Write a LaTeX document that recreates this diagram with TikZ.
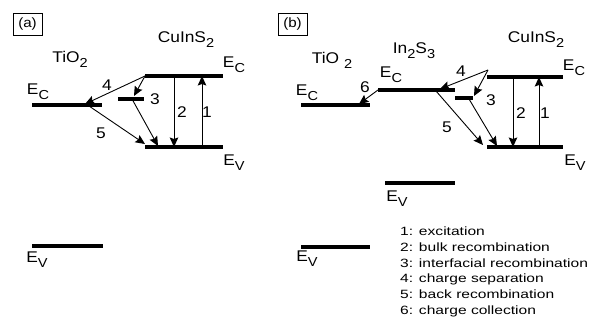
\documentclass[tikz,border=0pt]{standalone}
\usepackage{fontspec}
\setmainfont{Liberation Sans}[FakeStretch=1.12]
\newfontfamily\legfont{Liberation Sans}[FakeStretch=1.3]
\usetikzlibrary{arrows.meta}
\newcommand\lsub[1]{\raisebox{-0.32em}{\fontsize{13}{13}\selectfont #1}}
\tikzset{
  lvl/.style={line width=3.6pt},
  trans/.style={line width=0.9pt,-{Stealth[length=9.5pt,width=8.5pt,inset=1.5pt]}},
  lab/.style={inner sep=0pt,font=\fontsize{15.5}{17}\selectfont},
  tag/.style={draw,line width=0.8pt,minimum width=29pt,minimum height=22pt,inner sep=0pt,font=\fontsize{13.5}{15}\selectfont},
  legend/.style={inner sep=0pt,align=left,anchor=north west,font=\legfont\fontsize{12}{15.7}\selectfont}
}
\begin{document}
\begin{tikzpicture}[x=1pt,y=-1pt]
\useasboundingbox[fill=white] (0,0) rectangle (590,321);
% ---------- panel (a) ----------
\node[tag] (taga) at (27.5,24) {(a)};
\node[lab] (tioa) at (70,59) {TiO\lsub{2}};
\node[lab] (cuisa) at (186,40) {CuInS\lsub{2}};
\coordinate (aTcL) at (32,105); \coordinate (aTcR) at (102,105);
\coordinate (aTvL) at (32,246); \coordinate (aTvR) at (103,246);
\coordinate (aCcL) at (145,76); \coordinate (aCcR) at (223,76);
\coordinate (aCvL) at (145,147); \coordinate (aCvR) at (223,147);
\coordinate (a3L) at (118,99); \coordinate (a3R) at (144,99);
\draw[lvl] (aTcL) -- (aTcR);
\draw[lvl] (aTvL) -- (aTvR);
\draw[lvl] (aCcL) -- (aCcR);
\draw[lvl] (aCvL) -- (aCvR);
\draw[lvl] (a3L) -- (a3R);
\node[lab] (aEcT) at (38,92) {E\lsub{C}};
\node[lab] (aEvT) at (37,260) {E\lsub{V}};
\node[lab] (aEcC) at (234,65) {E\lsub{C}};
\node[lab] (aEvC) at (234,163) {E\lsub{V}};
\coordinate (a4t) at (85,104);
\coordinate (a3t) at (134,96);
\coordinate (a3s) at (132,99);
\coordinate (a3e) at (158,146);
\coordinate (a5s) at (89,106);
\coordinate (a5e) at (145,144);
\coordinate (a2s) at (174,76); \coordinate (a2e) at (174,147);
\coordinate (a1s) at (202,147); \coordinate (a1e) at (202,76);
\draw[trans] (aCcL) -- (a4t);
\draw[trans] (aCcL) -- (a3t);
\draw[trans] (a3s) -- (a3e);
\draw[trans] (a5s) -- (a5e);
\draw[trans] (a2s) -- (a2e);
\draw[trans] (a1s) -- (a1e);
\node[lab] (an4) at (107,85) {4};
\node[lab] (an3) at (155,99) {3};
\node[lab] (an2) at (182,112) {2};
\node[lab] (an1) at (207,112) {1};
\node[lab] (an5) at (101,133) {5};
% ---------- panel (b) ----------
\node[tag] (tagb) at (292.5,24) {(b)};
\node[lab] (tiob) at (332,60) {TiO \lsub{2}};
\node[lab] (inb) at (414,51) {In\lsub{2}S\lsub{3}};
\node[lab] (cuisb) at (536,40) {CuInS\lsub{2}};
\coordinate (bTcL) at (301,105); \coordinate (bTcR) at (370,105);
\coordinate (bTvL) at (301,247); \coordinate (bTvR) at (370,247);
\coordinate (bIcL) at (378,90); \coordinate (bIcR) at (455,90);
\coordinate (bIvL) at (385,183); \coordinate (bIvR) at (455,183);
\coordinate (bCcL) at (487,77); \coordinate (bCcR) at (563,77);
\coordinate (bCvL) at (487,147); \coordinate (bCvR) at (563,147);
\coordinate (b3L) at (455,98); \coordinate (b3R) at (473,98);
\draw[lvl] (bTcL) -- (bTcR);
\draw[lvl] (bTvL) -- (bTvR);
\draw[lvl] (bIcL) -- (bIcR);
\draw[lvl] (bIvL) -- (bIvR);
\draw[lvl] (bCcL) -- (bCcR);
\draw[lvl] (bCvL) -- (bCvR);
\draw[lvl] (b3L) -- (b3R);
\node[lab] (bEcT) at (307,93) {E\lsub{C}};
\node[lab] (bEvT) at (307,259) {E\lsub{V}};
\node[lab] (bEcI) at (391,75) {E\lsub{C}};
\node[lab] (bEvI) at (397,199) {E\lsub{V}};
\node[lab] (bEcC) at (574,68) {E\lsub{C}};
\node[lab] (bEvC) at (575,163) {E\lsub{V}};
\coordinate (b6s) at (378,90); \coordinate (b6e) at (359,104);
\coordinate (b4s) at (488,70); \coordinate (b4e) at (440,89);
\coordinate (b3t) at (474,96);
\coordinate (b3s) at (469,99); \coordinate (b3e) at (497,146);
\coordinate (b5s) at (436,91); \coordinate (b5e) at (483,145);
\coordinate (b2s) at (513,77); \coordinate (b2e) at (513,147);
\coordinate (b1s) at (539,147); \coordinate (b1e) at (539,77);
\draw[trans] (b6s) -- (b6e);
\draw[trans] (b4s) -- (b4e);
\draw[trans] (b4s) -- (b3t);
\draw[trans] (b3s) -- (b3e);
\draw[trans] (b5s) -- (b5e);
\draw[trans] (b2s) -- (b2e);
\draw[trans] (b1s) -- (b1e);
\node[lab] (bn6) at (365,87) {6};
\node[lab] (bn4) at (461,71) {4};
\node[lab] (bn3) at (491,100) {3};
\node[lab] (bn5) at (447,127) {5};
\node[lab] (bn2) at (521,113) {2};
\node[lab] (bn1) at (545,113) {1};
\node[legend] (leg) at (400,227) {1: excitation\\2: bulk recombination\\3: interfacial recombination\\4: charge separation\\5: back recombination\\6: charge collection};
\end{tikzpicture}
\end{document}
